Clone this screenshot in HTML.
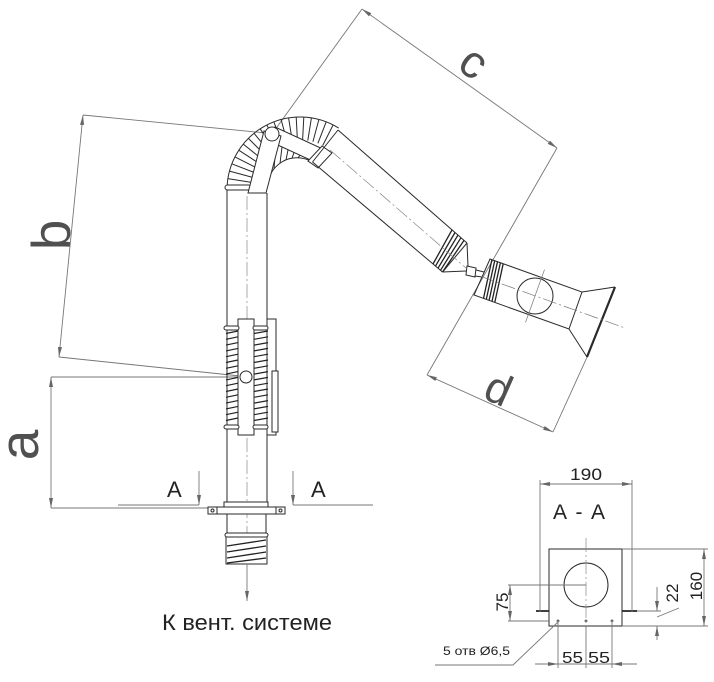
<!DOCTYPE html>
<html><head><meta charset="utf-8"><style>
html,body{margin:0;padding:0;background:#fff;}
svg{display:block;}
text{font-family:"Liberation Sans","Noto Sans CJK SC",sans-serif;}
</style></head><body>
<svg width="714" height="682" viewBox="0 0 714 682" xmlns="http://www.w3.org/2000/svg">
<defs>
<marker id="ar" viewBox="0 0 10 4" refX="10" refY="2" markerWidth="10" markerHeight="4" markerUnits="userSpaceOnUse" orient="auto-start-reverse"><path d="M0,0 L10,2 L0,4 z" fill="#666"/></marker>
</defs>
<rect width="714" height="682" fill="#fff"/>

<!-- dimension lines -->
<g stroke="#777" stroke-width="0.9" fill="none">
<line x1="362" y1="9" x2="557" y2="148" marker-start="url(#ar)" marker-end="url(#ar)"/>
<line x1="362" y1="9" x2="272" y2="134"/>
<line x1="557" y1="148" x2="427" y2="375"/>
<line x1="427" y1="375" x2="553" y2="432" marker-start="url(#ar)" marker-end="url(#ar)"/>
<line x1="553" y1="432" x2="588" y2="355"/>
<line x1="83" y1="115" x2="59" y2="357" marker-start="url(#ar)" marker-end="url(#ar)"/>
<line x1="83" y1="115" x2="266" y2="133"/>
<line x1="59" y1="357" x2="240" y2="376"/>
<line x1="51" y1="377" x2="51" y2="508" marker-start="url(#ar)" marker-end="url(#ar)"/>
<line x1="51" y1="377" x2="240" y2="377"/>
<line x1="51" y1="508" x2="208" y2="508"/>
<line x1="118" y1="505" x2="199" y2="505"/>
<line x1="199" y1="471" x2="199" y2="505" marker-end="url(#ar)"/>
<line x1="293" y1="471" x2="293" y2="505" marker-end="url(#ar)"/>
<line x1="293" y1="505" x2="373" y2="505"/>
</g>

<!-- labels -->
<g fill="#505050">
<text transform="translate(70,235) rotate(-90)" text-anchor="middle" font-size="55">b</text>
<text transform="translate(38,445) rotate(-90)" text-anchor="middle" font-size="55">a</text>
<text transform="translate(472,65) rotate(35.6)" x="0" y="12" text-anchor="middle" font-size="46">c</text>
<text transform="translate(499,388) rotate(24)" x="0" y="16" text-anchor="middle" font-size="44">d</text>
</g>
<g fill="#222" font-size="22">
<text x="167" y="497">A</text>
<text x="311" y="497">A</text>
<text x="162" y="630" textLength="170" lengthAdjust="spacingAndGlyphs">К вент. системе</text>
</g>

<!-- vertical pipe -->
<g stroke="#2a2a2a" stroke-width="1" fill="none">
<line x1="227" y1="190" x2="227" y2="502"/>
<line x1="267" y1="193" x2="267" y2="502"/>
</g>
<line x1="247" y1="196" x2="247" y2="540" stroke="#888" stroke-width="0.7" stroke-dasharray="14 3 2 3"/>

<!-- spring section -->
<g stroke="#2a2a2a" stroke-width="1" fill="#fff">
<rect x="238" y="319" width="16" height="116"/>
<polyline points="267,319 276,319 276,435 267,435" fill="none"/>
<rect x="272" y="371" width="6" height="61"/>
</g>
<g stroke="#222" stroke-width="1.2">
<line x1="226" y1="333.5" x2="238" y2="331"/><line x1="254" y1="333.5" x2="268" y2="331"/>
<line x1="226" y1="339.3" x2="238" y2="336.8"/><line x1="254" y1="339.3" x2="268" y2="336.8"/>
<line x1="226" y1="345.1" x2="238" y2="342.6"/><line x1="254" y1="345.1" x2="268" y2="342.6"/>
<line x1="226" y1="350.9" x2="238" y2="348.4"/><line x1="254" y1="350.9" x2="268" y2="348.4"/>
<line x1="226" y1="356.7" x2="238" y2="354.2"/><line x1="254" y1="356.7" x2="268" y2="354.2"/>
<line x1="226" y1="362.5" x2="238" y2="360"/><line x1="254" y1="362.5" x2="268" y2="360"/>
<line x1="226" y1="368.3" x2="238" y2="365.8"/><line x1="254" y1="368.3" x2="268" y2="365.8"/>
<line x1="226" y1="374.1" x2="238" y2="371.6"/><line x1="254" y1="374.1" x2="268" y2="371.6"/>
<line x1="226" y1="379.9" x2="238" y2="377.4"/><line x1="254" y1="379.9" x2="268" y2="377.4"/>
<line x1="226" y1="385.7" x2="238" y2="383.2"/><line x1="254" y1="385.7" x2="268" y2="383.2"/>
<line x1="226" y1="391.5" x2="238" y2="389"/><line x1="254" y1="391.5" x2="268" y2="389"/>
<line x1="226" y1="397.3" x2="238" y2="394.8"/><line x1="254" y1="397.3" x2="268" y2="394.8"/>
<line x1="226" y1="403.1" x2="238" y2="400.6"/><line x1="254" y1="403.1" x2="268" y2="400.6"/>
<line x1="226" y1="408.9" x2="238" y2="406.4"/><line x1="254" y1="408.9" x2="268" y2="406.4"/>
<line x1="226" y1="414.7" x2="238" y2="412.2"/><line x1="254" y1="414.7" x2="268" y2="412.2"/>
<line x1="226" y1="420.5" x2="238" y2="418"/><line x1="254" y1="420.5" x2="268" y2="418"/>
</g>
<g stroke="#2a2a2a" stroke-width="1" fill="#fff">
<rect x="224" y="326" width="15" height="4" rx="2"/>
<rect x="253" y="326" width="15" height="4" rx="2"/>
<rect x="224" y="425" width="15" height="4" rx="2"/>
<rect x="253" y="425" width="15" height="4" rx="2"/>
<circle cx="246" cy="377" r="6"/>
</g>

<!-- flange and bottom -->
<g stroke="#2a2a2a" stroke-width="1" fill="#fff">
<rect x="224" y="502" width="44" height="5"/>
<rect x="208" y="507" width="77" height="7"/>
<line x1="217" y1="507" x2="217" y2="514"/>
<line x1="276" y1="507" x2="276" y2="514"/>
<circle cx="212.5" cy="510.5" r="1.5"/>
<circle cx="280.5" cy="510.5" r="1.5"/>
<line x1="227" y1="514" x2="227" y2="534"/>
<line x1="266" y1="514" x2="266" y2="534"/>
<rect x="226" y="536" width="41" height="28"/>
<rect x="225" y="533" width="43" height="4" rx="2"/>
</g>
<g stroke="#222" stroke-width="1.3">
<line x1="227" y1="546" x2="266" y2="540"/>
<line x1="227" y1="552" x2="266" y2="546"/>
<line x1="227" y1="558" x2="266" y2="552"/>
<line x1="227" y1="563" x2="266" y2="558"/>
</g>
<line x1="247" y1="564" x2="247" y2="601" stroke="#777" stroke-width="0.9" marker-end="url(#ar)"/>

<!-- elbow -->
<g stroke="#2a2a2a" stroke-width="1" fill="none">
<line x1="227.1" y1="186.2" x2="250.1" y2="187.4"/>
<line x1="227.9" y1="178.6" x2="250.6" y2="182.2"/>
<line x1="229.5" y1="171.1" x2="251.7" y2="177.1"/>
<line x1="231.8" y1="163.8" x2="253.3" y2="172.1"/>
<line x1="235.0" y1="156.9" x2="255.5" y2="167.3"/>
<line x1="238.8" y1="150.2" x2="258.1" y2="162.8"/>
<line x1="243.3" y1="144.1" x2="261.1" y2="158.5"/>
<line x1="248.4" y1="138.4" x2="264.6" y2="154.6"/>
<line x1="254.1" y1="133.3" x2="268.5" y2="151.1"/>
<line x1="260.2" y1="128.8" x2="272.8" y2="148.1"/>
<line x1="266.9" y1="125.0" x2="277.3" y2="145.5"/>
<line x1="273.8" y1="121.8" x2="282.1" y2="143.3"/>
<line x1="281.1" y1="119.5" x2="287.1" y2="141.7"/>
<line x1="288.6" y1="117.9" x2="292.2" y2="140.6"/>
<line x1="296.2" y1="117.1" x2="297.4" y2="140.1"/>
<line x1="303.8" y1="117.1" x2="302.6" y2="140.1"/>
<line x1="311.4" y1="117.9" x2="307.8" y2="140.6"/>
<line x1="318.9" y1="119.5" x2="312.9" y2="141.7"/>
<line x1="326.2" y1="121.8" x2="317.9" y2="143.3"/>
<line x1="333.1" y1="125.0" x2="322.7" y2="145.5"/>
<path d="M227,190 A73,73 0 0 1 338.7,128.1"/>
<path d="M266,190 C268,165 290,150 313,162"/>
<line x1="274" y1="169" x2="276" y2="144"/>
<line x1="280" y1="163.5" x2="282" y2="147"/>
<line x1="286" y1="160" x2="288" y2="150"/>
<line x1="292" y1="158.3" x2="294" y2="152.5"/>
<line x1="298" y1="157.8" x2="300" y2="155.3"/>
</g>
<g stroke="#2a2a2a" stroke-width="1" fill="#fff">
<rect x="225" y="185" width="26" height="5" rx="2.5"/>
<polygon points="275,127 325,150 319,164 269,141"/>
<polygon points="322,146 332,153 318,168 308,161"/>
<polygon points="264,131 281,136 266,193 248,193"/>
<circle cx="272" cy="134" r="7"/>
</g>

<!-- arm pipe -->
<g stroke="#2a2a2a" stroke-width="1" fill="none">
<line x1="338" y1="130" x2="467" y2="243"/>
<line x1="312.5" y1="162" x2="442.5" y2="272"/>
<line x1="338" y1="130" x2="312.5" y2="162"/>
<line x1="467" y1="243" x2="442.5" y2="272"/>
<line x1="467" y1="243" x2="468" y2="266"/>
<line x1="442.5" y1="272" x2="466" y2="271"/>
<line x1="476" y1="270" x2="484" y2="272"/>
<line x1="475" y1="276" x2="482" y2="277"/>
</g>
<g stroke="#222" stroke-width="1.3">
<line x1="452" y1="229.9" x2="433" y2="264"/>
<line x1="455" y1="232.5" x2="435.5" y2="266.1"/>
<line x1="458" y1="235.1" x2="438" y2="268.2"/>
<line x1="461" y1="237.7" x2="440.5" y2="270.3"/>
<line x1="464" y1="240.4" x2="442.5" y2="272"/>
</g>
<line x1="330" y1="150" x2="466" y2="268" stroke="#888" stroke-width="0.7" stroke-dasharray="14 3 2 3"/>
<polygon points="467,266 476,268 475,277 466,275" fill="#fff" stroke="#2a2a2a" stroke-width="1"/>

<!-- hood -->
<g stroke="#2a2a2a" stroke-width="1" fill="none">
<polygon points="490,259 582,292 569,329 474,295"/>
<line x1="582" y1="292" x2="615" y2="287"/>
<line x1="569" y1="329" x2="587" y2="357"/>
<line x1="615" y1="287" x2="587" y2="357" stroke-width="2.2"/>
<circle cx="535" cy="296" r="18"/>
</g>
<g stroke="#222" stroke-width="1.3">
<line x1="491.9" y1="259.7" x2="483.5" y2="298.4"/>
<line x1="494.7" y1="260.7" x2="486.3" y2="299.4"/>
<line x1="497.5" y1="261.7" x2="489.1" y2="300.4"/>
<line x1="500.4" y1="262.7" x2="492" y2="301.4"/>
<line x1="503.2" y1="263.7" x2="494.8" y2="302.4"/>
</g>
<g stroke="#777" stroke-width="0.7">
<line x1="481" y1="276.5" x2="625" y2="328" stroke-dasharray="14 3 2 3"/>
<line x1="544.5" y1="269.6" x2="525.5" y2="322.4"/>
</g>

<!-- A-A section -->
<g stroke="#2a2a2a" stroke-width="1" fill="none">
<rect x="549" y="549" width="73" height="77"/>
<circle cx="586" cy="585" r="22"/>
<line x1="536" y1="611" x2="549" y2="611" stroke-width="1.8"/>
<line x1="622" y1="611" x2="637" y2="611" stroke-width="1.8"/>
<line x1="556.5" y1="621" x2="559.5" y2="621"/><line x1="558" y1="619.5" x2="558" y2="622.5"/>
<line x1="584.5" y1="621" x2="587.5" y2="621"/><line x1="586" y1="619.5" x2="586" y2="622.5"/>
<line x1="610.5" y1="621" x2="613.5" y2="621"/><line x1="612" y1="619.5" x2="612" y2="622.5"/>
</g>
<line x1="586" y1="538" x2="586" y2="628" stroke="#888" stroke-width="0.7" stroke-dasharray="14 3 2 3"/>
<g stroke="#777" stroke-width="0.9" fill="none">
<line x1="540" y1="484" x2="632" y2="484" marker-start="url(#ar)" marker-end="url(#ar)"/>
<line x1="540" y1="480" x2="540" y2="612"/>
<line x1="632" y1="480" x2="632" y2="612"/>
<line x1="622" y1="549" x2="708" y2="549"/>
<line x1="622" y1="626" x2="708" y2="626"/>
<line x1="704" y1="549" x2="704" y2="626" marker-start="url(#ar)" marker-end="url(#ar)"/>
<line x1="637" y1="611" x2="661" y2="611"/>
<line x1="657" y1="587" x2="657" y2="611" marker-end="url(#ar)"/>
<line x1="657" y1="640" x2="657" y2="626" marker-end="url(#ar)"/>
<line x1="657" y1="617" x2="679" y2="608"/>
<line x1="508" y1="585" x2="586" y2="585"/>
<line x1="508" y1="621" x2="549" y2="621"/>
<line x1="510" y1="585" x2="510" y2="621" marker-start="url(#ar)" marker-end="url(#ar)"/>
<line x1="558" y1="621" x2="558" y2="668"/>
<line x1="586" y1="626" x2="586" y2="668"/>
<line x1="612" y1="621" x2="612" y2="668"/>
<line x1="535" y1="664" x2="558" y2="664" marker-end="url(#ar)"/>
<line x1="558" y1="664" x2="612" y2="664"/>
<line x1="637" y1="664" x2="612" y2="664" marker-end="url(#ar)"/>
<polyline points="435,665 513,665 558,622"/>
</g>
<g fill="#222">
<text x="570" y="480" font-size="17" textLength="32" lengthAdjust="spacingAndGlyphs">190</text>
<text x="553" y="519" font-size="21" textLength="52" lengthAdjust="spacing" xml:space="preserve">A - A</text>
<text transform="translate(702,586) rotate(-90)" text-anchor="middle" font-size="17">160</text>
<text transform="translate(678,593) rotate(-90)" text-anchor="middle" font-size="17">22</text>
<text transform="translate(508,602) rotate(-90)" text-anchor="middle" font-size="17">75</text>
<text x="562" y="663" font-size="16" textLength="21" lengthAdjust="spacingAndGlyphs">55</text>
<text x="588" y="663" font-size="16" textLength="22" lengthAdjust="spacingAndGlyphs">55</text>
<text x="443" y="655" font-size="12" textLength="67" lengthAdjust="spacingAndGlyphs">5 отв Ø6,5</text>
</g>
</svg>
</body></html>
